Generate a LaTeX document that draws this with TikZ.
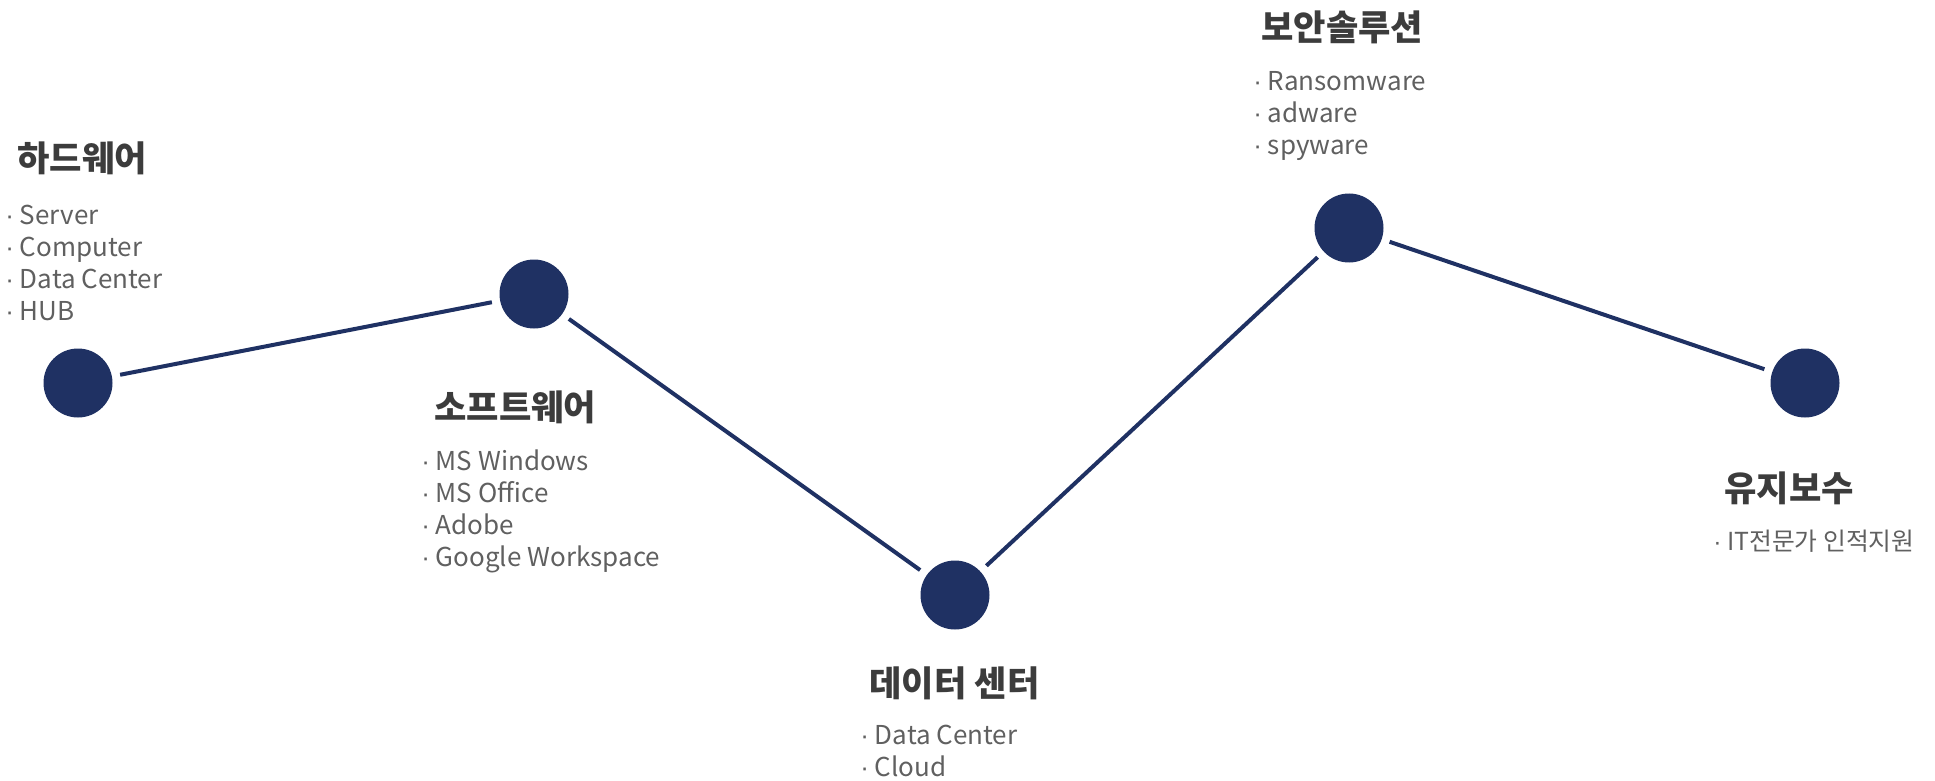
\documentclass[tikz,border=0pt]{standalone}
\usepackage{fontspec}
\setmainfont{Noto Sans CJK KR}
\newfontfamily\dotfont{Liberation Sans}
\usepackage{tikz}

\definecolor{navy}{HTML}{1F3163}
\definecolor{headgray}{HTML}{3C3C3C}
\definecolor{itemgray}{HTML}{606060}

% narrow bullet in front of each item
\newcommand\itm{{\dotfont\char"00B7}\ }

\begin{document}
\begin{tikzpicture}[x=0.5pt, y=-0.5pt,
  dot/.style={circle, fill=navy, minimum size=34.5pt, inner sep=0pt},
  link/.style={draw=navy, line width=2pt, shorten <=4pt, shorten >=4pt},
  head/.style={anchor=west, inner sep=0pt, text=headgray, font=\fontsize{17.6}{21}\selectfont\bfseries},
  items/.style={anchor=north west, inner sep=0pt, align=left, text=itemgray, font=\fontsize{13}{16}\selectfont}]

\useasboundingbox (0,0) rectangle (1935,781);

% Dots along the zigzag
\node[dot] (hwdot) at (78,383) {};  % 하드웨어
\node[dot] (swdot) at (534,294) {}; % 소프트웨어
\node[dot] (dcdot) at (955,595) {}; % 데이터 센터
\node[dot] (secdot) at (1349,228) {}; % 보안솔루션
\node[dot] (mtdot) at (1805,383) {}; % 유지보수

% Links between the dots
\draw[link] (hwdot) -- (swdot);
\draw[link] (swdot) -- (dcdot);
\draw[link] (dcdot) -- (secdot);
\draw[link] (secdot) -- (mtdot);

% Headings
\node[head] (hw) at (17,158) {하드웨어};
\node[head] (sw) at (434,407) {소프트웨어};
\node[head] (dc) at (869,683) {데이터 센터};
\node[head] (sec) at (1261,27) {보안솔루션};
\node[head] (mt) at (1724,488) {유지보수};

% Item lists
\node[items] (hwlist) at (5,205) {\itm Server\\\itm Computer\\\itm Data Center\\\itm HUB};
\node[items] (swlist) at (421,449) {\itm MS Windows\\\itm MS Office\\\itm Adobe\\\itm Google Workspace};
\node[items] (dclist) at (860,725) {\itm Data Center\\\itm Cloud};
\node[items] (seclist) at (1253,71) {\itm Ransomware\\\itm adware\\\itm spyware};
\node[items, font=\fontsize{12.4}{16}\selectfont] (mtlist) at (1713,530) {\itm IT전문가 인적지원};
\end{tikzpicture}
\end{document}
